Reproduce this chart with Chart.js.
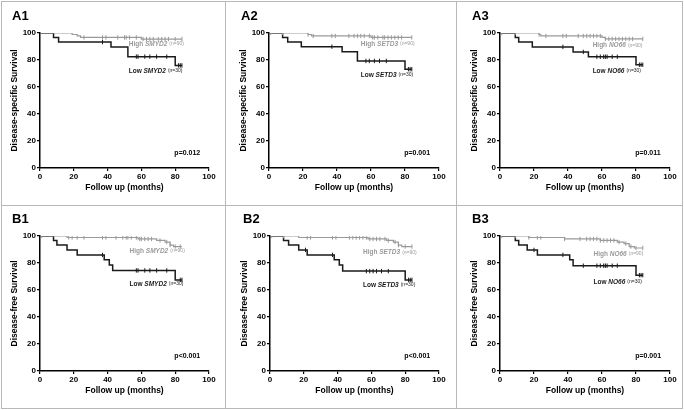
<!DOCTYPE html>
<html>
<head>
<meta charset="utf-8">
<script src="https://cdn.jsdelivr.net/npm/chart.js@4.4.0/dist/chart.umd.min.js"></script>
<style>
  body { margin: 0; background: #fff; }
  #fig { position: relative; width: 684px; height: 410px; overflow: hidden; background: #fff; }
  #fig canvas { position: absolute; }
  .rule { position: absolute; background: #b8b8b8; }
</style>
</head>
<body>
<div id="fig">
  <canvas id="a1"></canvas>
  <canvas id="a2"></canvas>
  <canvas id="a3"></canvas>
  <canvas id="b1"></canvas>
  <canvas id="b2"></canvas>
  <canvas id="b3"></canvas>
  <div class="rule" style="left:1px;top:1px;width:682px;height:1px"></div>
  <div class="rule" style="left:1px;top:408px;width:682px;height:1px"></div>
  <div class="rule" style="left:1px;top:1px;width:1px;height:408px"></div>
  <div class="rule" style="left:682px;top:1px;width:1px;height:408px"></div>
  <div class="rule" style="left:225px;top:1px;width:1px;height:408px"></div>
  <div class="rule" style="left:456px;top:1px;width:1px;height:408px"></div>
  <div class="rule" style="left:1px;top:205px;width:682px;height:1px"></div>
</div>
<script>
// event times (months) and survival (%) for each curve, plus censoring times
var a1HighTimes = [0, 19, 22, 24, 60, 84];
var a1HighSurv = [100, 98.9, 97.8, 96.7, 95.5, 95.5];
var a1HighCens = [26, 37, 39, 46, 50, 51, 53, 57, 61, 63, 65, 67, 70, 72, 74, 76, 80, 84];
var a1LowTimes = [0, 8, 11, 42, 52, 80, 84];
var a1LowSurv = [100, 96.7, 93.3, 89.7, 82.5, 76, 76];
var a1LowCens = [37, 57, 58, 62, 65, 69, 75, 82, 83, 84];

var a2HighTimes = [0, 23, 25, 60, 84];
var a2HighSurv = [100, 98.9, 97.8, 96.7, 96.7];
var a2HighCens = [1, 8, 23, 26, 37, 39, 47, 50, 52, 54, 56, 59, 61, 62, 64, 67, 68, 70, 72, 74, 76, 78, 84];
var a2LowTimes = [0, 8, 11, 19, 43, 52, 80, 84];
var a2LowSurv = [100, 96.7, 93.3, 89.9, 86.2, 79.3, 73.2, 73.2];
var a2LowCens = [37, 57, 59, 62, 65, 69, 82, 83, 84];

var a3HighTimes = [0, 23, 24, 60, 62, 84];
var a3HighSurv = [100, 98.9, 97.8, 96.7, 95.6, 95.6];
var a3HighCens = [1, 9, 23, 27, 37, 39, 46, 49, 51, 53, 55, 57, 59, 62, 64, 66, 68, 70, 72, 74, 76, 78, 84];
var a3LowTimes = [0, 9, 11, 19, 43, 52, 80, 84];
var a3LowSurv = [100, 96.7, 93.3, 89.7, 86.0, 82.4, 76.5, 76.5];
var a3LowCens = [37, 49, 57, 59, 61, 62, 63, 66, 69, 82, 83, 84];

var b1HighTimes = [0, 16, 58, 69, 74, 77, 79, 84];
var b1HighSurv = [100, 98.9, 97.8, 96.7, 95.5, 93.3, 92.2, 92.2];
var b1HighCens = [1, 17, 19, 22, 26, 37, 39, 45, 49, 51, 52, 54, 57, 59, 60, 62, 64, 66, 71, 75, 77, 80, 83];
var b1LowTimes = [0, 8, 10, 16, 22, 38, 41, 43, 80, 84];
var b1LowSurv = [100, 96.7, 93.3, 89.7, 86.0, 82.4, 78.5, 74.5, 67.5, 67.5];
var b1LowCens = [37, 57, 58, 62, 65, 69, 75, 83, 84];

var b2HighTimes = [0, 17, 58, 69, 73, 76, 78, 84];
var b2HighSurv = [100, 98.9, 97.8, 96.7, 95.5, 93.3, 92.2, 92.2];
var b2HighCens = [1, 8, 22, 24, 37, 39, 47, 49, 51, 53, 55, 57, 59, 61, 63, 65, 68, 70, 74, 76, 80, 84];
var b2LowTimes = [0, 8, 11, 17, 22, 38, 41, 43, 80, 84];
var b2LowSurv = [100, 96.7, 93.3, 89.7, 86.0, 82.4, 78.5, 74.0, 67.5, 67.5];
var b2LowCens = [21, 37, 57, 59, 61, 63, 66, 70, 82, 83, 84];

var b3HighTimes = [0, 17, 38, 59, 69, 73, 76, 79, 84];
var b3HighSurv = [100, 98.9, 97.8, 96.7, 95.5, 94.4, 92.2, 91.1, 91.1];
var b3HighCens = [1, 9, 17, 22, 24, 38, 47, 51, 53, 55, 57, 59, 61, 63, 65, 67, 70, 74, 77, 80, 84];
var b3LowTimes = [0, 9, 11, 16, 22, 41, 43, 80, 84];
var b3LowSurv = [100, 96.7, 93.3, 89.7, 86.0, 82.4, 78.0, 71.0, 71.0];
var b3LowCens = [20, 37, 49, 57, 59, 61, 62, 63, 66, 69, 82, 83, 84];

var xTicks = [0, 20, 40, 60, 80, 100];
var yTicks = [0, 20, 40, 60, 80, 100];
var genes = ['SMYD2', 'SETD3', 'NO66'];
var pValues = ['p=0.012', 'p=0.001', 'p=0.011', 'p<0.001', 'p<0.001', 'p=0.001'];
var highN = '(n=90)';
var lowN = '(n=30)';

var FONT = '"Liberation Sans", Arial, Helvetica, sans-serif';
var HIGH_COLOR = '#9a9a9a';
var LOW_COLOR = '#1a1a1a';

function survAt(times, surv, t) {
  var s = surv[0];
  for (var i = 0; i < times.length; i++) {
    if (times[i] <= t) s = surv[i];
  }
  return s;
}

function steps(times, surv) {
  return times.map(function (t, i) { return { x: t, y: surv[i] }; });
}

function ticksOn(cens, times, surv) {
  return cens.map(function (t) { return { x: t, y: survAt(times, surv, t) }; });
}

function drawGroup(ctx, x, y, word, gene, n, color) {
  ctx.fillStyle = color;
  ctx.font = 'bold 6.5px ' + FONT;
  ctx.fillText(word, x, y);
  x += ctx.measureText(word).width;
  ctx.font = 'italic bold 6.5px ' + FONT;
  ctx.fillText(gene, x, y);
  x += ctx.measureText(gene).width + 2;
  ctx.font = '5px ' + FONT;
  ctx.fillText(n, x, y);
}

var kmText = {
  id: 'kmText',
  afterDatasetsDraw: function (chart, args, opts) {
    var ctx = chart.ctx;
    var sx = chart.scales.x, sy = chart.scales.y;
    ctx.save();
    ctx.textBaseline = 'alphabetic';
    ctx.fillStyle = '#000';
    ctx.font = 'bold 13px ' + FONT;
    ctx.fillText(opts.tag, opts.tagX, opts.tagY);

    ctx.textBaseline = 'middle';
    var lx = sx.getPixelForValue(opts.labelX);
    drawGroup(ctx, lx, sy.getPixelForValue(opts.highY), 'High ', opts.gene, highN, HIGH_COLOR);
    drawGroup(ctx, lx, sy.getPixelForValue(opts.lowY), 'Low ', opts.gene, lowN, LOW_COLOR);

    ctx.fillStyle = '#000';
    ctx.font = 'bold 7px ' + FONT;
    ctx.fillText(opts.p, sx.getPixelForValue(79.5), sy.getPixelForValue(11));
    ctx.restore();
  }
};

function makePanel(p) {
  var canvas = document.getElementById(p.id);
  canvas.width = p.w;
  canvas.height = p.h;
  canvas.style.left = p.left + 'px';
  canvas.style.top = p.top + 'px';

  var yAxisW = 35, xAxisH = 30;
  var axisFont = { family: FONT, size: 8, weight: 'bold' };
  var titleFont = { family: FONT, size: 8.5, weight: 'bold' };

  new Chart(canvas, {
    type: 'line',
    data: {
      datasets: [
        { data: steps(p.highT, p.highS), stepped: true, borderColor: HIGH_COLOR, borderWidth: 1.2, pointRadius: 0, fill: false },
        { data: ticksOn(p.highC, p.highT, p.highS), showLine: false, pointStyle: 'line', rotation: 90, radius: 2.2, borderWidth: 1, borderColor: HIGH_COLOR },
        { data: steps(p.lowT, p.lowS), stepped: true, borderColor: LOW_COLOR, borderWidth: 1.5, pointRadius: 0, fill: false },
        { data: ticksOn(p.lowC, p.lowT, p.lowS), showLine: false, pointStyle: 'line', rotation: 90, radius: 2.2, borderWidth: 1, borderColor: LOW_COLOR }
      ]
    },
    options: {
      responsive: false,
      animation: false,
      devicePixelRatio: 1,
      events: [],
      layout: {
        padding: { left: p.l - yAxisW, right: p.w - p.r, top: p.t, bottom: p.h - p.b - xAxisH }
      },
      plugins: {
        legend: { display: false },
        tooltip: { enabled: false },
        kmText: p.text
      },
      scales: {
        x: {
          type: 'linear', min: 0, max: 100,
          afterFit: function (s) { s.height = xAxisH; },
          afterBuildTicks: function (s) { s.ticks = xTicks.map(function (v) { return { value: v }; }); },
          ticks: { font: axisFont, color: '#000', padding: 1, maxRotation: 0 },
          grid: { drawOnChartArea: false, drawTicks: true, tickLength: 3, color: '#000', lineWidth: 1.2 },
          border: { color: '#000', width: 1.5 },
          title: { display: true, text: 'Follow up (months)', font: titleFont, color: '#000', padding: { top: 0, bottom: 5 } }
        },
        y: {
          type: 'linear', min: 0, max: 100,
          afterFit: function (s) { s.width = yAxisW; },
          afterBuildTicks: function (s) { s.ticks = yTicks.map(function (v) { return { value: v }; }); },
          ticks: { font: axisFont, color: '#000', padding: 1 },
          grid: { drawOnChartArea: false, drawTicks: true, tickLength: 3, color: '#000', lineWidth: 1.2 },
          border: { color: '#000', width: 1.5 },
          title: { display: true, text: p.yTitle, font: titleFont, color: '#000', padding: { top: 5, bottom: 0 } }
        }
      }
    },
    plugins: [kmText]
  });
}

var dss = 'Disease-specific Survival';
var dfs = 'Disease-free Survival';

makePanel({ id: 'a1', left: 0, top: 0, w: 225, h: 205, l: 40, r: 209, t: 33, b: 168, yTitle: dss,
  highT: a1HighTimes, highS: a1HighSurv, highC: a1HighCens, lowT: a1LowTimes, lowS: a1LowSurv, lowC: a1LowCens,
  text: { tag: 'A1', tagX: 12, tagY: 20, gene: genes[0], labelX: 52.5, highY: 92, lowY: 72, p: pValues[0] } });
makePanel({ id: 'a2', left: 225, top: 0, w: 231, h: 205, l: 44, r: 214, t: 33, b: 168, yTitle: dss,
  highT: a2HighTimes, highS: a2HighSurv, highC: a2HighCens, lowT: a2LowTimes, lowS: a2LowSurv, lowC: a2LowCens,
  text: { tag: 'A2', tagX: 16, tagY: 20, gene: genes[1], labelX: 54, highY: 92, lowY: 69, p: pValues[1] } });
makePanel({ id: 'a3', left: 456, top: 0, w: 228, h: 205, l: 44, r: 214, t: 33, b: 168, yTitle: dss,
  highT: a3HighTimes, highS: a3HighSurv, highC: a3HighCens, lowT: a3LowTimes, lowS: a3LowSurv, lowC: a3LowCens,
  text: { tag: 'A3', tagX: 16, tagY: 20, gene: genes[2], labelX: 54.5, highY: 91, lowY: 72, p: pValues[2] } });
makePanel({ id: 'b1', left: 0, top: 205, w: 225, h: 205, l: 40, r: 209, t: 31, b: 166, yTitle: dfs,
  highT: b1HighTimes, highS: b1HighSurv, highC: b1HighCens, lowT: b1LowTimes, lowS: b1LowSurv, lowC: b1LowCens,
  text: { tag: 'B1', tagX: 12, tagY: 18, gene: genes[0], labelX: 53, highY: 89, lowY: 64.5, p: pValues[3] } });
makePanel({ id: 'b2', left: 225, top: 205, w: 231, h: 205, l: 45, r: 214, t: 31, b: 166, yTitle: dfs,
  highT: b2HighTimes, highS: b2HighSurv, highC: b2HighCens, lowT: b2LowTimes, lowS: b2LowSurv, lowC: b2LowCens,
  text: { tag: 'B2', tagX: 18, tagY: 18, gene: genes[1], labelX: 55, highY: 88, lowY: 63.7, p: pValues[4] } });
makePanel({ id: 'b3', left: 456, top: 205, w: 228, h: 205, l: 44, r: 214, t: 31, b: 166, yTitle: dfs,
  highT: b3HighTimes, highS: b3HighSurv, highC: b3HighCens, lowT: b3LowTimes, lowS: b3LowSurv, lowC: b3LowCens,
  text: { tag: 'B3', tagX: 16, tagY: 18, gene: genes[2], labelX: 55, highY: 86.7, lowY: 66, p: pValues[5] } });
</script>
</body>
</html>
